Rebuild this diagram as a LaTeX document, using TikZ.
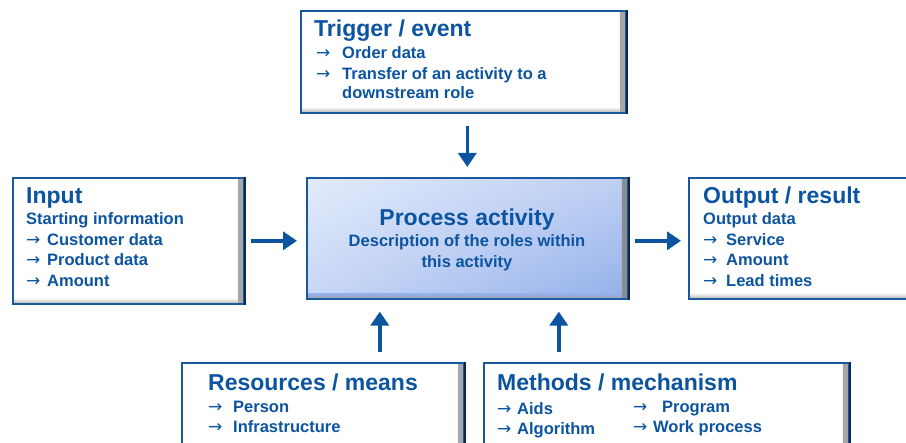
\documentclass[tikz,border=0pt]{standalone}
\usepackage{fontspec}
\setmainfont{Liberation Sans}
\newfontfamily\arrfont{DejaVu Sans}
\usetikzlibrary{arrows.meta,shadings}
\definecolor{txtblue}{RGB}{12,84,160}
\definecolor{edgeblue}{RGB}{28,88,158}
\definecolor{navy}{RGB}{14,38,78}
\definecolor{procUL}{RGB}{226,235,251}
\definecolor{procUR}{RGB}{190,207,243}
\definecolor{procLL}{RGB}{200,215,245}
\definecolor{procLR}{RGB}{148,176,234}
\newcommand{\arr}[1]{\makebox[#1pt][l]{{\arrfont\mdseries\fontsize{17}{17}\selectfont →}}}
\begin{document}
\begin{tikzpicture}[x=1pt,y=-1pt,
  panel/.style={draw=edgeblue, line width=1.6pt, fill=white, anchor=north west, inner sep=0pt,
    path picture={
      \shade[left color=white, right color=black!35]
        ([xshift=-6pt]path picture bounding box.north east) rectangle (path picture bounding box.south east);
      \shade[top color=white, bottom color=black!30]
        ([yshift=6pt]path picture bounding box.south west) rectangle ([xshift=-6pt]path picture bounding box.south east);
    }},
  procpanel/.style={draw=edgeblue, line width=1.6pt, anchor=north west, inner sep=0pt, shade,
    upper left=procUL, upper right=procUR, lower left=procLL, lower right=procLR,
    path picture={
      \shade[left color=procLR, right color=black!45]
        ([xshift=-6pt]path picture bounding box.north east) rectangle (path picture bounding box.south east);
      \shade[top color=procLR, bottom color=black!35]
        ([yshift=5pt]path picture bounding box.south west) rectangle ([xshift=-6pt]path picture bounding box.south east);
    }},
  rightedge/.style={draw=navy, line width=2pt},
  ttl/.style={anchor=base west, inner sep=0pt, text=txtblue, font=\fontsize{23}{27}\selectfont\bfseries},
  itm/.style={anchor=base west, inner sep=0pt, text=txtblue, font=\fontsize{16.5}{20}\selectfont\bfseries},
  flow/.style={draw=txtblue, line width=3.5pt, -{Triangle[length=14pt,width=18pt]}}
]
\useasboundingbox (0,0) rectangle (906,443);

% boxes
\node[panel, minimum width=325pt, minimum height=102pt] (trig) at (300,10) {};
\node[panel, minimum width=231pt, minimum height=126pt] (inp) at (12,177) {};
\node[procpanel, minimum width=321pt, minimum height=121pt] (proc) at (306,177) {};
\node[panel, minimum width=240pt, minimum height=121pt] (out) at (688,177) {};
\node[panel, minimum width=282pt, minimum height=100pt] (res) at (181,362) {};
\node[panel, minimum width=365pt, minimum height=100pt] (meth) at (483,362) {};

\foreach \b in {trig,inp,proc,res,meth}
  \draw[rightedge] (\b.north east) -- (\b.south east);

% Trigger
\node[ttl] (t0) at (314,37) {Trigger / event};
\node[itm] (t1) at (316,59) {\arr{26}Order data};
\node[itm] (t2) at (316,80) {\arr{26}Transfer of an activity to a};
\node[itm] (t3) at (342,99) {downstream role};

% Input
\node[ttl] (i0) at (26,204) {Input};
\node[itm] (i1) at (26,225) {Starting information};
\node[itm] (i2) at (26,246) {\arr{21}Customer data};
\node[itm] (i3) at (26,266) {\arr{21}Product data};
\node[itm] (i4) at (26,287) {\arr{21}Amount};

% Process
\node[ttl, anchor=base] (p0) at (467,226) {Process activity};
\node[itm, anchor=base] (p1) at (467,247) {Description of the roles within};
\node[itm, anchor=base] (p2) at (467,268) {this activity};

% Output
\node[ttl] (o0) at (703,204) {Output / result};
\node[itm] (o1) at (703,225) {Output data};
\node[itm] (o2) at (703,246) {\arr{23}Service};
\node[itm] (o3) at (703,266) {\arr{23}Amount};
\node[itm] (o4) at (703,287) {\arr{23}Lead times};

% Resources
\node[ttl] (r0) at (208,391) {Resources / means};
\node[itm] (r1) at (208,413) {\arr{25}Person};
\node[itm] (r2) at (208,433) {\arr{25}Infrastructure};

% Methods
\node[ttl] (m0) at (497,391) {Methods / mechanism};
\node[itm] (m1) at (497,415) {\arr{20}Aids};
\node[itm] (m2) at (497,435) {\arr{20}Algorithm};
\node[itm] (m3) at (633,413) {\arr{29}Program};
\node[itm] (m4) at (633,433) {\arr{20}Work process};

% connectors
\draw[flow] ([yshift=-12pt]trig.south -| proc.north) -- ([yshift=10pt]proc.north);
\draw[flow] ([xshift=6pt]inp.east) -- ([xshift=-9pt]inp.east -| proc.west);
\draw[flow] ([xshift=6pt]inp.east -| proc.east) -- ([xshift=-7pt]inp.east -| out.west);
\coordinate (ra) at ([xshift=57pt]res.north);
\coordinate (ma) at ([xshift=-107.5pt]meth.north);
\draw[flow] ([yshift=10pt]ra) -- ([yshift=-12pt]ra |- proc.south);
\draw[flow] ([yshift=10pt]ma) -- ([yshift=-12pt]ma |- proc.south);
\end{tikzpicture}
\end{document}
